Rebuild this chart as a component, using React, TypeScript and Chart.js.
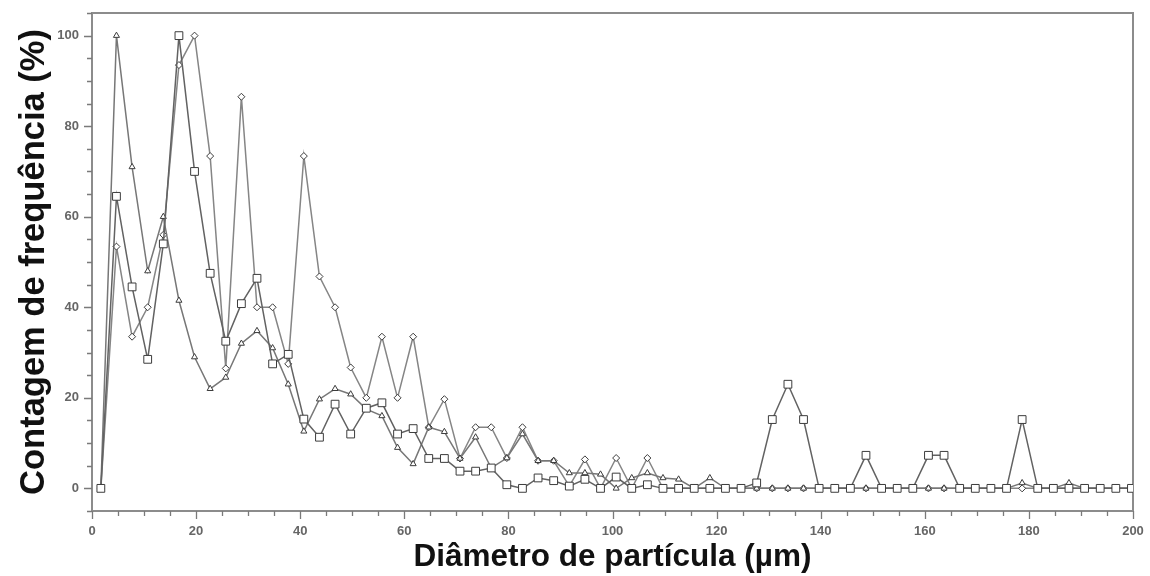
import React, { useEffect, useRef } from 'react';
import { Chart, registerables } from 'chart.js';

Chart.register(...registerables);

// Particle diameter bins (µm)
const diameters = [
  1.7, 4.7, 7.7, 10.7, 13.7, 16.7, 19.7, 22.7, 25.7, 28.7,
  31.7, 34.7, 37.7, 40.7, 43.7, 46.7, 49.7, 52.7, 55.7, 58.7,
  61.7, 64.7, 67.7, 70.7, 73.7, 76.7, 79.7, 82.7, 85.7, 88.7,
  91.7, 94.7, 97.7, 100.7, 103.7, 106.7, 109.7, 112.7, 115.7, 118.7,
  121.7, 124.7, 127.7, 130.7, 133.7, 136.7, 139.7, 142.7, 145.7, 148.7,
  151.7, 154.7, 157.7, 160.7, 163.7, 166.7, 169.7, 172.7, 175.7, 178.7,
  181.7, 184.7, 187.7, 190.7, 193.7, 196.7, 199.7,
];

// Series with open square markers
const squareSeries = [
  0, 64.5, 44.5, 28.5, 54, 100, 70, 47.5, 32.5, 40.8,
  46.4, 27.5, 29.6, 15.3, 11.3, 18.6, 12, 17.7, 18.9, 12,
  13.2, 6.6, 6.6, 3.8, 3.8, 4.5, 0.8, 0, 2.3, 1.7,
  0.5, 2, 0, 2.5, 0, 0.8, 0, 0, 0, 0,
  0, 0, 1.2, 15.2, 23, 15.2, 0, 0, 0, 7.3,
  0, 0, 0, 7.3, 7.3, 0, 0, 0, 0, 15.2,
  0, 0, 0, 0, 0, 0, 0,
];

// Series with triangle markers
const triangleSeries = [
  0, 100, 71, 48, 60, 41.5, 29, 22, 24.5, 32,
  34.8, 31, 23, 12.6, 19.7, 22, 20.8, 17.5, 16, 9,
  5.4, 13.5, 12.5, 6.6, 11.3, 4.5, 6.7, 12, 6.1, 6.1,
  3.4, 3.4, 3.1, 0, 2.3, 3.4, 2.3, 2, 0, 2.3,
  0, 0, 0, 0, 0, 0, 0, 0, 0, 0,
  0, 0, 0, 0, 0, 0, 0, 0, 0, 1.2,
  0, 0, 1.2, 0, 0, 0, 0,
];

// Series with diamond markers
const diamondSeries = [
  0, 53.4, 33.5, 40, 56, 93.5, 100, 73.4, 26.5, 86.5,
  40, 40, 27.5, 73.4, 46.8, 40, 26.7, 20, 33.5, 20,
  33.5, 13.5, 19.7, 6.6, 13.5, 13.5, 6.7, 13.5, 6.1, 6.1,
  0.5, 6.4, 0, 6.7, 0, 6.7, 0, 0, 0, 0,
  0, 0, 0, 0, 0, 0, 0, 0, 0, 0,
  0, 0, 0, 0, 0, 0, 0, 0, 0, 0,
  0, 0, 0, 0, 0, 0, 0,
];

const yTickLabels = [0, 20, 40, 60, 80, 100];
const xTickLabels = [0, 20, 40, 60, 80, 100, 120, 140, 160, 180, 200];

const frameTicksPlugin = {
  id: 'frameTicks',
  beforeDatasetsDraw(chart: any) {
    const { ctx, chartArea: a, scales } = chart;
    ctx.save();
    ctx.strokeStyle = '#8c8c8c';
    ctx.lineWidth = 2;
    ctx.strokeRect(a.left, a.top, a.right - a.left, a.bottom - a.top);
    ctx.strokeStyle = '#7a7a7a';
    ctx.lineWidth = 1.3;
    ctx.beginPath();
    for (const t of scales.y.ticks) {
      const py = Math.round(scales.y.getPixelForValue(t.value)) + 0.5;
      const len = yTickLabels.includes(t.value) ? 8 : 5;
      ctx.moveTo(a.left, py);
      ctx.lineTo(a.left - len, py);
    }
    for (const t of scales.x.ticks) {
      const px = Math.round(scales.x.getPixelForValue(t.value)) + 0.5;
      const len = xTickLabels.includes(t.value) ? 8 : 5;
      ctx.moveTo(px, a.bottom);
      ctx.lineTo(px, a.bottom + len);
    }
    ctx.stroke();
    ctx.restore();
  },
};

const mk = (vals: number[]) => diameters.map((x, i) => ({ x, y: vals[i] }));

export default function App() {
  const ref = useRef<HTMLCanvasElement | null>(null);

  useEffect(() => {
    if (!ref.current) return;
    const common = {
      borderColor: '#777777',
      borderWidth: 1.5,
      tension: 0,
      pointBackgroundColor: '#ffffff',
      pointBorderColor: '#3c3c3c',
      pointBorderWidth: 1,
    };
    const chart = new Chart(ref.current, {
      type: 'line',
      data: {
        datasets: [
          { ...common, label: 'squares', data: mk(squareSeries), pointStyle: 'rect', pointRadius: 5.5, borderColor: '#626262' },
          { ...common, label: 'triangles', data: mk(triangleSeries), pointStyle: 'triangle', pointRadius: 3.5 },
          { ...common, label: 'diamonds', data: mk(diamondSeries), pointStyle: 'rectRot', pointRadius: 3.5, borderColor: '#858585' },
        ],
      },
      options: {
        animation: false,
        responsive: false,
        devicePixelRatio: 1,
        layout: { padding: { top: 13, right: 17, left: 0, bottom: 0 } },
        plugins: { legend: { display: false }, tooltip: { enabled: false } },
        scales: {
          x: {
            type: 'linear',
            min: 0,
            max: 200,
            afterFit: (s: any) => { s.height = 65; },
            grid: { display: true, drawOnChartArea: false, drawTicks: true, tickLength: 8, tickColor: 'rgba(0,0,0,0)' },
            border: { display: false },
            ticks: {
              stepSize: 5,
              autoSkip: false,
              maxRotation: 0,
              padding: 5,
              color: '#666666',
              font: { family: 'Liberation Sans, Arial, sans-serif', size: 13, weight: 'bold' },
              callback: (v: any) => (xTickLabels.includes(Number(v)) ? String(v) : ''),
            },
            title: {
              display: true,
              text: 'Diâmetro de partícula (µm)',
              color: '#111111',
              font: { family: 'Liberation Sans, Arial, sans-serif', size: 31.5, weight: 'bold' },
              padding: { top: 0, bottom: 0 },
            },
          },
          y: {
            type: 'linear',
            min: -5,
            max: 105,
            afterFit: (s: any) => { s.width = 92; },
            grid: { display: true, drawOnChartArea: false, drawTicks: true, tickLength: 8, tickColor: 'rgba(0,0,0,0)' },
            border: { display: false },
            ticks: {
              stepSize: 5,
              autoSkip: false,
              padding: 5,
              color: '#666666',
              font: { family: 'Liberation Sans, Arial, sans-serif', size: 13, weight: 'bold' },
              callback: (v: any) => (yTickLabels.includes(Number(v)) ? String(v) : ''),
            },
            title: {
              display: true,
              text: 'Contagem de frequência (%)',
              color: '#111111',
              font: { family: 'Liberation Sans, Arial, sans-serif', size: 34.5, weight: 'bold' },
              padding: { top: 14, bottom: 0 },
            },
          },
        },
      },
      plugins: [frameTicksPlugin],
    } as any);
    return () => chart.destroy();
  }, []);

  return (
    <div style={{ position: 'fixed', left: 0, top: 0, width: 1150, height: 576, background: '#ffffff' }}>
      <canvas ref={ref} width={1150} height={576} style={{ display: 'block' }} />
    </div>
  );
}
